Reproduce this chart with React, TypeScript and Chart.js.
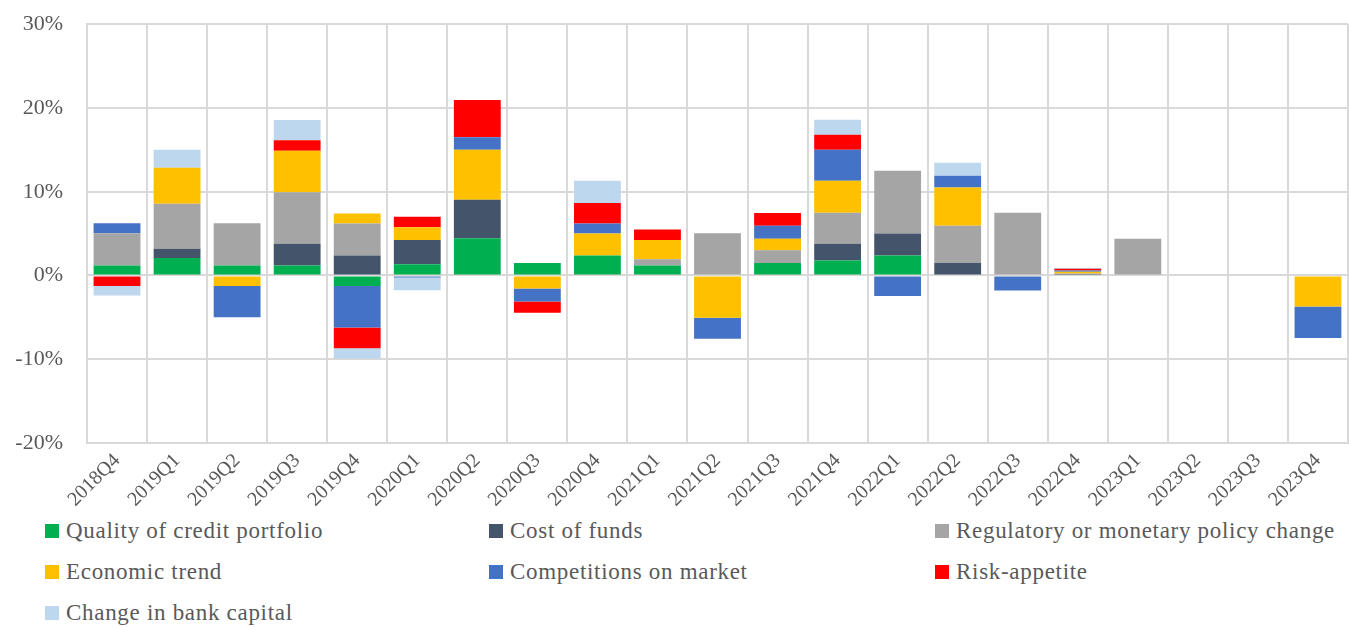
import React, { useEffect, useRef } from "react";
import { Chart, registerables } from "chart.js";

Chart.register(...registerables);

const categories = [
  "2018Q4", "2019Q1", "2019Q2", "2019Q3", "2019Q4", "2020Q1", "2020Q2", "2020Q3", "2020Q4",
  "2021Q1", "2021Q2", "2021Q3", "2021Q4", "2022Q1", "2022Q2", "2022Q3", "2022Q4",
  "2023Q1", "2023Q2", "2023Q3", "2023Q4",
];

const quality = [1.2, 2.1, 1.2, 1.2, -1.25, 1.35, 4.45, 1.5, 2.4, 1.2, 0, 1.5, 1.8, 2.4, 0, 0, 0, 0, 0, 0, 0];
const costOfFunds = [0, 1.1, 0, 2.6, 2.4, 2.9, 4.6, 0, 0, 0, 0, 0, 2.0, 2.6, 1.5, 0, 0.1, 0, 0, 0, 0];
const regulatory = [3.85, 5.35, 5.05, 6.15, 3.8, 0, 0, 0, 0, 0.75, 5.05, 1.5, 3.7, 7.5, 4.45, 7.5, 0.15, 4.4, 0, 0, 0];
const economic = [0, 4.3, -1.25, 4.95, 1.2, 1.5, 5.95, -1.55, 2.6, 2.3, -5.05, 1.4, 3.8, 0, 4.55, 0, 0.2, 0, 0, 0, -3.7];
const competitions = [1.2, 0, -3.75, 0, -4.95, -0.25, 1.5, -1.55, 1.2, 0, -2.5, 1.55, 3.7, -2.45, 1.4, -1.8, 0.15, 0, 0, 0, -3.75];
const riskAppetite = [-1.25, 0, 0, 1.25, -2.5, 1.25, 4.45, -1.35, 2.45, 1.25, 0, 1.5, 1.8, 0, 0, 0, 0.2, 0, 0, 0, 0];
const bankCapital = [-1.15, 2.15, 0, 2.4, -1.2, -1.5, 0, 0, 2.65, 0, 0, 0, 1.8, 0, 1.55, 0, 0.1, 0, 0, 0, 0];

const seriesNames = [
  "Quality of credit portfolio",
  "Cost of funds",
  "Regulatory or monetary policy change",
  "Economic trend",
  "Competitions on market",
  "Risk-appetite",
  "Change in bank capital",
];
const seriesColors = ["#00B050", "#44546A", "#A5A5A5", "#FFC000", "#4472C4", "#FF0000", "#BDD7EE"];
const seriesData = [quality, costOfFunds, regulatory, economic, competitions, riskAppetite, bankCapital];

const yTicks = [-20, -10, 0, 10, 20, 30];

const FONT = "'Liberation Serif', 'DejaVu Serif', serif";
const TEXT = "#595959";
const GRID = "#D9D9D9";

const legendCols = [45, 489, 935];
const legendRows = [531, 572, 613];

export default function App() {
  const ref = useRef<HTMLCanvasElement | null>(null);

  useEffect(() => {
    if (!ref.current) return;
    const chart = new Chart(ref.current, {
      type: "bar",
      data: {
        labels: categories,
        datasets: seriesNames.map((name, i) => ({
          label: name,
          data: seriesData[i],
          backgroundColor: seriesColors[i],
          borderWidth: 0,
          categoryPercentage: 1,
          barPercentage: 0.78,
        })),
      },
      options: {
        animation: false,
        responsive: false,
        maintainAspectRatio: false,
        layout: { padding: { top: 10, right: 1, bottom: 0, left: 0 } },
        plugins: {
          legend: { display: false },
          tooltip: { enabled: false },
        },
        scales: {
          x: {
            stacked: true,
            grid: { color: GRID, lineWidth: 2, offset: true, drawTicks: false },
            border: { color: GRID, width: 2 },
            ticks: {
              color: TEXT,
              font: { family: FONT, size: 20 },
              minRotation: 45,
              maxRotation: 45,
              padding: 6,
              autoSkip: false,
            },
            afterFit: (axis: any) => {
              axis.height = 67;
            },
          },
          y: {
            stacked: true,
            min: -20,
            max: 30,
            afterBuildTicks: (axis: any) => {
              axis.ticks = yTicks.map((v) => ({ value: v }));
            },
            grid: { color: GRID, lineWidth: 2, drawTicks: false },
            border: { color: GRID, width: 2 },
            ticks: {
              color: TEXT,
              font: { family: FONT, size: 22 },
              padding: 24,
              callback: (v: any) => `${v}%`,
            },
            afterFit: (axis: any) => {
              axis.width = 87;
            },
          },
        },
      },
    });
    return () => chart.destroy();
  }, []);

  return (
    <div style={{ position: "fixed", left: 0, top: 0, width: 1349, height: 627, background: "#fff", overflow: "hidden" }}>
      <canvas ref={ref} width={1349} height={523} style={{ position: "absolute", left: 0, top: -13 }} />
      {seriesNames.map((name, i) => {
        const col = i % 3;
        const row = Math.floor(i / 3);
        return (
          <div
            key={name}
            style={{
              position: "absolute",
              left: legendCols[col],
              top: legendRows[row] - 15,
              height: 30,
              display: "flex",
              alignItems: "center",
              fontFamily: FONT,
              fontSize: 23,
              letterSpacing: 0.7,
              color: TEXT,
              whiteSpace: "nowrap",
            }}
          >
            <span style={{ display: "inline-block", width: 14, height: 14, background: seriesColors[i], marginRight: 7 }} />
            <span>{name}</span>
          </div>
        );
      })}
    </div>
  );
}
